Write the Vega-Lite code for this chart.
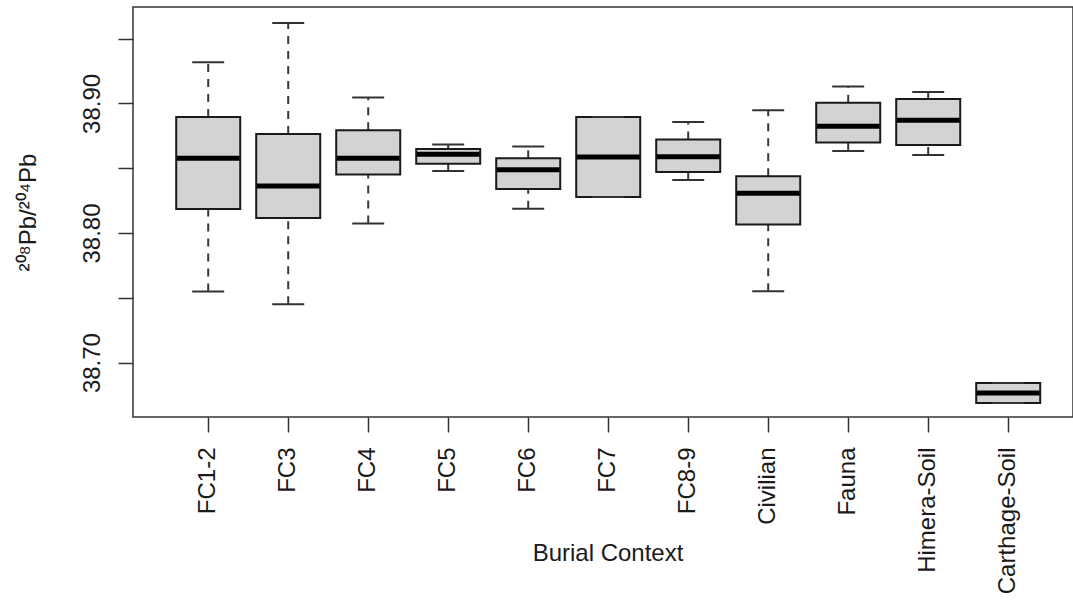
{
  "$schema": "https://vega.github.io/schema/vega-lite/v6.json",
  "autosize": "none",
  "padding": {"left": 133, "top": 7, "right": 0, "bottom": 188},
  "width": 940,
  "height": 410,
  "background": "white",
  "config": {
    "view": {"stroke": "#333333", "strokeWidth": 1.5},
    "font": "Liberation Sans"
  },
  "data": {
    "values": [
      {"ctx": "FC1-2", "lower": 38.7548, "q1": 38.8185, "median": 38.8576, "q3": 38.8895, "upper": 38.9317},
      {"ctx": "FC3", "lower": 38.7450, "q1": 38.8116, "median": 38.8363, "q3": 38.8764, "upper": 38.9620},
      {"ctx": "FC4", "lower": 38.8073, "q1": 38.8451, "median": 38.8576, "q3": 38.8792, "upper": 38.9045},
      {"ctx": "FC5", "lower": 38.8478, "q1": 38.8535, "median": 38.8607, "q3": 38.8648, "upper": 38.8682},
      {"ctx": "FC6", "lower": 38.8188, "q1": 38.8340, "median": 38.8489, "q3": 38.8576, "upper": 38.8667},
      {"ctx": "FC7", "lower": 38.8278, "q1": 38.8278, "median": 38.8586, "q3": 38.8895, "upper": 38.8895},
      {"ctx": "FC8-9", "lower": 38.8409, "q1": 38.8471, "median": 38.8589, "q3": 38.8721, "upper": 38.8857},
      {"ctx": "Civilian", "lower": 38.7550, "q1": 38.8065, "median": 38.8306, "q3": 38.8437, "upper": 38.8947},
      {"ctx": "Fauna", "lower": 38.8633, "q1": 38.8698, "median": 38.8823, "q3": 38.9006, "upper": 38.9130},
      {"ctx": "Himera-Soil", "lower": 38.8602, "q1": 38.8679, "median": 38.8870, "q3": 38.9034, "upper": 38.9088},
      {"ctx": "Carthage-Soil", "lower": 38.6688, "q1": 38.6688, "median": 38.6765, "q3": 38.6843, "upper": 38.6843}
    ]
  },
  "encoding": {
    "x": {
      "field": "ctx",
      "type": "nominal",
      "sort": null,
      "scale": {"paddingInner": 0, "paddingOuter": 0.375, "align": 0.587},
      "axis": {
        "title": "Burial Context",
        "domain": false,
        "grid": false,
        "bandPosition": 0.5,
        "tickSize": 15,
        "tickWidth": 1.5,
        "tickColor": "#333333",
        "labelAngle": 270,
        "labelAlign": "right",
        "labelBaseline": "middle",
        "labelPadding": 15,
        "labelOverlap": false,
        "labelFlush": false,
        "labelFont": "Liberation Sans",
        "labelFontSize": 24,
        "labelColor": "#1a1a1a",
        "titleFont": "Liberation Sans",
        "titleFontSize": 24,
        "titleFontWeight": "normal",
        "titleColor": "#1a1a1a",
        "titleX": 474.5,
        "titleY": 143,
        "titleAlign": "center",
        "titleBaseline": "alphabetic"
      }
    }
  },
  "layer": [
    {
      "mark": {"type": "rule", "strokeDash": [8, 7], "strokeWidth": 2, "color": "#383838"},
      "encoding": {
        "y": {
          "field": "lower",
          "type": "quantitative",
          "scale": {"domain": [38.658, 38.9744], "nice": false, "zero": false},
          "axis": {
            "values": [38.70, 38.75, 38.80, 38.85, 38.90, 38.95],
            "labelExpr": "(round(datum.value*100) % 10 == 0) ? format(datum.value, '.2f') : ''",
            "domain": false,
            "grid": false,
            "tickSize": 15,
            "tickWidth": 1.5,
            "tickColor": "#333333",
            "labelAngle": 270,
            "labelAlign": "center",
            "labelBaseline": "bottom",
            "labelPadding": 14,
            "labelOverlap": false,
            "labelFlush": false,
            "labelFont": "Liberation Sans",
            "labelFontSize": 24,
            "labelColor": "#1a1a1a",
            "title": "²⁰⁸Pb/²⁰⁴Pb",
            "titleFont": "Liberation Sans",
            "titleFontSize": 24,
            "titleFontWeight": "normal",
            "titleColor": "#1a1a1a",
            "titleAngle": 270,
            "titleX": -105,
            "titleY": 205,
            "titleAlign": "center",
            "titleBaseline": "middle"
          }
        },
        "y2": {"field": "q1"}
      }
    },
    {
      "mark": {"type": "rule", "strokeDash": [8, 7], "strokeWidth": 2, "color": "#383838"},
      "encoding": {
        "y": {"field": "q3", "type": "quantitative"},
        "y2": {"field": "upper"}
      }
    },
    {
      "mark": {"type": "bar", "width": {"band": 0.8}, "fill": "#d3d3d3", "stroke": "#1a1a1a", "strokeWidth": 2},
      "encoding": {
        "y": {"field": "q1", "type": "quantitative"},
        "y2": {"field": "q3"}
      }
    },
    {
      "mark": {"type": "tick", "size": 32, "thickness": 2, "color": "#333333", "opacity": 1},
      "encoding": {
        "y": {"field": "upper", "type": "quantitative"}
      }
    },
    {
      "mark": {"type": "tick", "size": 32, "thickness": 2, "color": "#333333", "opacity": 1},
      "encoding": {
        "y": {"field": "lower", "type": "quantitative"}
      }
    },
    {
      "mark": {"type": "tick", "size": 63, "thickness": 5, "color": "#000000", "opacity": 1},
      "encoding": {
        "y": {"field": "median", "type": "quantitative"}
      }
    }
  ]
}
